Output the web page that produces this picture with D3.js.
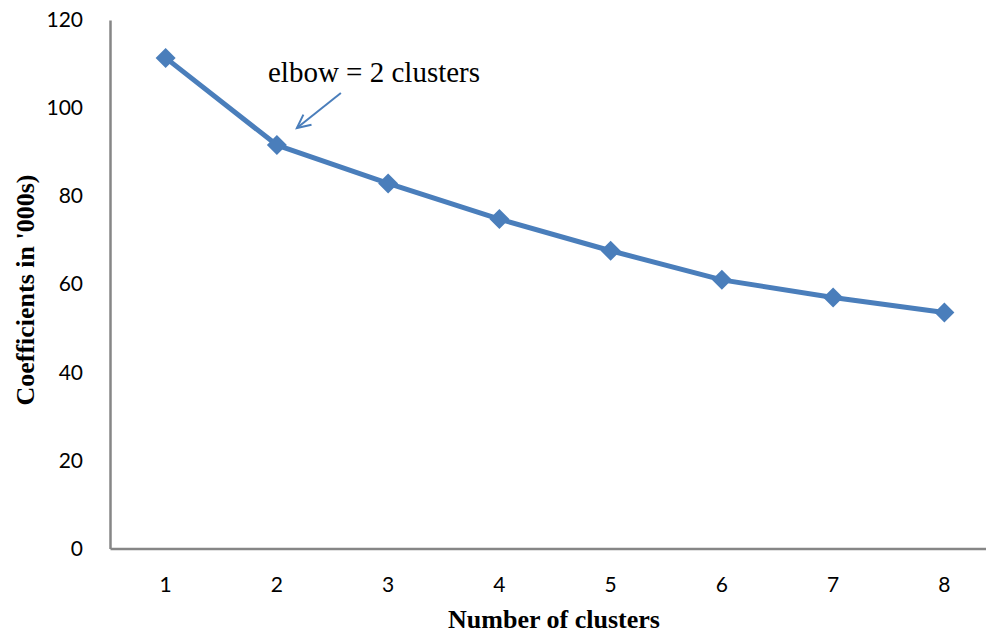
<!DOCTYPE html>
<html>
<head>
<meta charset="utf-8">
<script src="https://cdn.jsdelivr.net/npm/d3@7"></script>
<style>
  html, body { margin: 0; padding: 0; background: #fff; }
  svg { display: block; }
</style>
</head>
<body>
<svg id="chart" width="986" height="636"></svg>
<script>
const categories = [1, 2, 3, 4, 5, 6, 7, 8];
const values = [111.4, 91.6, 82.9, 74.8, 67.6, 61.0, 57.0, 53.6];
const yTicks = [0, 20, 40, 60, 80, 100, 120];
const xTitle = "Number of clusters";
const yTitle = "Coefficients in '000s)";
const annotation = "elbow = 2 clusters";

(function () {
const svg = d3.select("#chart");
const mLeft = 110, mRight = 1000, mTop = 20, mBottom = 548.5;

const x = d3.scaleBand().domain(categories).range([mLeft, mRight]);
const y = d3.scaleLinear().domain([0, 120]).range([mBottom, mTop]);
const cx = d => x(d) + x.bandwidth() / 2;

const axisColor = "#868686";
const lineColor = "#4a7ebb";
const tickFont = "Lato, 'Open Sans', sans-serif";
const serif = "'Liberation Serif', 'Times New Roman', serif";

// Y axis
const yAxis = svg.append("g").attr("transform", `translate(${mLeft},0)`)
  .call(d3.axisLeft(y).tickValues(yTicks).tickSize(0).tickPadding(27));
yAxis.select(".domain").attr("stroke", axisColor).attr("stroke-width", 2.5);
yAxis.selectAll("text").attr("font-family", tickFont).attr("font-size", 21).attr("fill", "#000");

// X axis
const xAxis = svg.append("g").attr("transform", `translate(0,${mBottom})`)
  .call(d3.axisBottom(x).tickSize(0).tickPadding(29));
xAxis.select(".domain").attr("stroke", axisColor).attr("stroke-width", 2.5);
xAxis.selectAll("text").attr("font-family", tickFont).attr("font-size", 21).attr("fill", "#000");

// Line
const line = d3.line().x((d, i) => cx(categories[i])).y(d => y(d));
svg.append("path").datum(values)
  .attr("d", line).attr("fill", "none")
  .attr("stroke", lineColor).attr("stroke-width", 5).attr("stroke-linejoin", "round");

// Diamond markers
const sym = d3.symbol().type(d3.symbolSquare).size(200);
svg.selectAll(".mk").data(values).enter().append("path")
  .attr("class", "mk")
  .attr("d", sym)
  .attr("transform", (d, i) => `translate(${cx(categories[i])},${y(d)}) rotate(45)`)
  .attr("fill", lineColor);

// Axis titles
svg.append("text").attr("x", 554).attr("y", 628)
  .attr("text-anchor", "middle")
  .attr("font-family", serif)
  .attr("font-weight", "bold").attr("font-size", 26).text(xTitle);

svg.append("text")
  .attr("transform", `translate(34,290) rotate(-90)`)
  .attr("text-anchor", "middle")
  .attr("font-family", serif)
  .attr("font-weight", "bold").attr("font-size", 26).text(yTitle);

// Annotation
svg.append("text").attr("x", 268).attr("y", 82)
  .attr("font-family", serif)
  .attr("font-size", 29).attr("fill", "#000").text(annotation);

// Arrow (anchored relative to point 2)
const ax = cx(2), ay = y(values[1]);
const tip = [ax + 20, ay - 17];
const tail = [ax + 64, ay - 52];
svg.append("line").attr("x1", tail[0]).attr("y1", tail[1]).attr("x2", tip[0]).attr("y2", tip[1])
  .attr("stroke", lineColor).attr("stroke-width", 2);
const ang = Math.atan2(tip[1] - tail[1], tip[0] - tail[0]);
const hl = 15, spread = 0.45;
const head = [
  [tip[0] - hl * Math.cos(ang - spread), tip[1] - hl * Math.sin(ang - spread)],
  tip,
  [tip[0] - hl * Math.cos(ang + spread), tip[1] - hl * Math.sin(ang + spread)]
];
svg.append("path").attr("d", d3.line()(head)).attr("fill", "none")
  .attr("stroke", lineColor).attr("stroke-width", 2);
})();
</script>
</body>
</html>
